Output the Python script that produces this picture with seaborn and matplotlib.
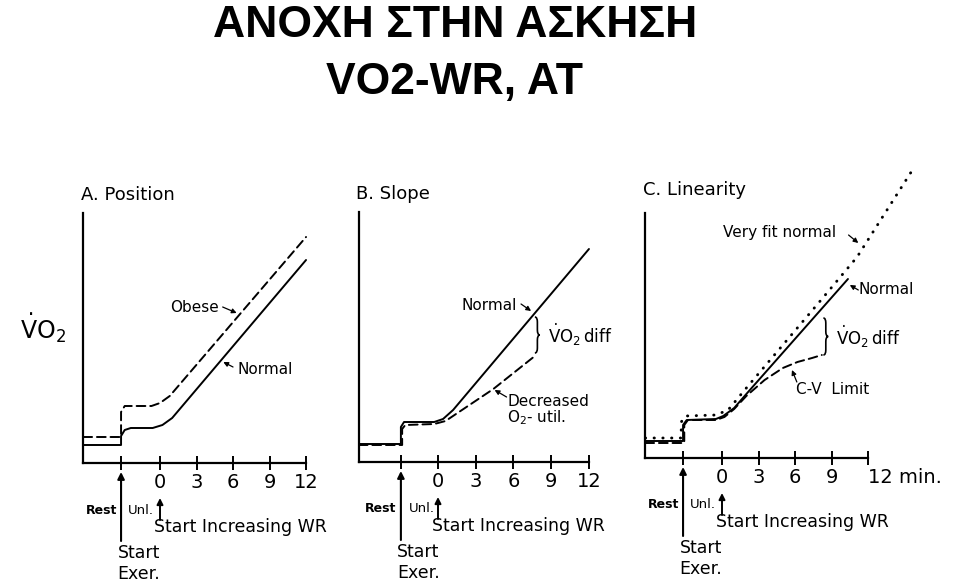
import numpy as np
import pandas as pd
import matplotlib
matplotlib.use("Agg")
import matplotlib.pyplot as plt
from matplotlib.path import Path
from matplotlib.patches import PathPatch
import seaborn as sns

sns.set_style("white")
plt.rcParams["font.family"] = ["DejaVu Sans"]
plt.rcParams["mathtext.fontset"] = "dejavusans"
plt.rcParams["text.color"] = "black"
plt.rcParams["xtick.color"] = "black"
plt.rcParams["axes.labelcolor"] = "black"

# -- data (minutes on x, arbitrary VO2 units on y)
a_normal_x = [-6.3, -3.2, -3.2, -2.9, -2.4, -0.6, 0.2, 1.0, 12.0]
a_normal_y = [18, 18, 27, 33, 35, 35, 38, 45, 203]
a_obese_x = [-6.3, -3.2, -3.2, -2.9, -0.7, 0.0, 0.8, 12.0]
a_obese_y = [26, 26, 51, 57, 57, 60, 67, 226]

b_normal_x = [-6.3, -2.95, -2.95, -2.7, -0.3, 0.4, 1.2, 12.0]
b_normal_y = [18, 18, 35, 40, 40, 43, 52, 213]
b_decr_x = [-6.3, -2.85, -2.85, -2.6, -0.3, 0.6, 4.4, 7.6]
b_decr_y = [17, 17, 33, 37, 38, 41, 73, 105]

c_normal_x = [-6.3, -3.2, -3.2, -2.9, -0.5, 0.1, 1.0, 2.0, 10.35]
c_normal_y = [17, 17, 33, 38, 39, 42, 50, 64, 179]
c_fit_x = [-6.3, -3.35, -3.35, -3.0, -0.5, 0.5, 2.0, 8.0, 11.1, 15.7]
c_fit_y = [20, 20, 36, 42, 43, 48, 70, 156, 201, 289]
c_cv_x = [-6.3, -3.1, -3.1, -2.8, -0.5, 0.2, 1.0, 2.0, 3.5, 5.0, 6.2, 7.4, 8.2]
c_cv_y = [15, 15, 33, 38, 38, 41, 49, 62, 78, 90, 96, 100, 103]

start_exer = [-3.2, -2.95, -3.2]
tick_vals = [0, 3, 6, 9, 12]
tick_labels = ["0", "3", "6", "9", "12"]
panel_titles = ["A. Position", "B. Slope", "C. Linearity"]

# -- layout (pixels of a 960x586 figure)
W, H = 960, 586
zero_px = [160, 438, 722]
ppm = [12.17, 12.58, 12.17]
base_px = [463, 462, 458]
XMIN, XMAX, YTOP = -6.3, 16.5, 300

LW = 1.4
DASH = (0, (4.5, 2.5))
DOT = (0, (0.1, 2.9))

fig = plt.figure(figsize=(9.6, 5.86), dpi=100)


def make_axes(i):
    left = (zero_px[i] + XMIN * ppm[i]) / W
    width = (XMAX - XMIN) * ppm[i] / W
    ax = fig.add_axes([left, (H - base_px[i]) / H, width, YTOP / H])
    ax.set_facecolor("none")
    return ax


def finish_axes(ax, i, ytop_spine, labels):
    ax.set_xlim(XMIN, XMAX)
    ax.set_ylim(0, YTOP)
    for s in ["top", "right"]:
        ax.spines[s].set_visible(False)
    ax.spines["left"].set_bounds(0, ytop_spine)
    ax.spines["bottom"].set_bounds(XMIN, 12)
    for s in ["left", "bottom"]:
        ax.spines[s].set_linewidth(1.6)
        ax.spines[s].set_color("black")
    ax.set_xticks([start_exer[i]] + tick_vals)
    ax.set_xticklabels([""] + labels)
    ax.tick_params(axis="x", bottom=True, direction="inout", length=10,
                   width=1.4, labelsize=14, pad=2, colors="black")
    ax.set_yticks([])
    ax.set_xlabel("")
    ax.set_ylabel("")
    ax.text(XMIN - 0.2, 268, panel_titles[i], fontsize=13, va="center", ha="left")


def curve(ax, xs, ys, ls="-", lw=LW):
    df = pd.DataFrame({"x": xs, "y": ys})
    sns.lineplot(data=df, x="x", y="y", estimator=None, sort=False, ax=ax,
                 color="black", linewidth=lw, linestyle=ls,
                 dash_capstyle="round", legend=False)


def pointer(ax, tail, head, scale=7, lw=0.9):
    ax.annotate("", xy=head, xytext=tail, annotation_clip=False,
                arrowprops=dict(arrowstyle="-|>", color="black", lw=lw,
                                mutation_scale=scale, shrinkA=0, shrinkB=0))


def brace(ax, x, y0, y1, w=0.4, r=5):
    ym = (y0 + y1) / 2
    h = x + w / 2
    verts = [(x, y1), (h, y1), (h, y1 - r), (h, ym + r), (h, ym), (x + w, ym),
             (h, ym), (h, ym - r), (h, y0 + r), (h, y0), (x, y0)]
    codes = [Path.MOVETO, Path.CURVE3, Path.CURVE3, Path.LINETO, Path.CURVE3,
             Path.CURVE3, Path.CURVE3, Path.CURVE3, Path.LINETO, Path.CURVE3,
             Path.CURVE3]
    ax.add_patch(PathPatch(Path(verts, codes), fill=False, lw=1.2,
                           edgecolor="black", clip_on=False))


def below_axis(ax, s):
    pointer(ax, (s, -78), (s, -9), scale=10, lw=1.5)
    pointer(ax, (0, -57), (0, -35), scale=9, lw=1.4)
    ax.text(s - 0.35, -47, "Rest", fontsize=9, fontweight="bold",
            ha="right", va="center")
    ax.text(s + 0.6, -47, "Unl.", fontsize=9.5, ha="left", va="center")
    ax.text(-0.5, -64, "Start Increasing WR", fontsize=12.5,
            ha="left", va="center")
    ax.text(s - 0.3, -90, "Start", fontsize=12.5, ha="left", va="center")
    ax.text(s - 0.3, -111, "Exer.", fontsize=12.5, ha="left", va="center")


diff_label = r"$\dot{\mathrm{V}}\mathrm{O}_2\,$diff"

# -- A. Position
ax = make_axes(0)
curve(ax, a_obese_x, a_obese_y, ls=DASH)
curve(ax, a_normal_x, a_normal_y)
finish_axes(ax, 0, 250, tick_labels)
ax.text(0.8, 156, "Obese", fontsize=11, va="center")
pointer(ax, (5.15, 156), (6.3, 150))
ax.text(6.4, 94, "Normal", fontsize=11, va="center")
pointer(ax, (6.0, 96), (5.2, 101))
below_axis(ax, start_exer[0])

# -- B. Slope
ax = make_axes(1)
curve(ax, b_decr_x, b_decr_y, ls=DASH)
curve(ax, b_normal_x, b_normal_y)
finish_axes(ax, 1, 250, tick_labels)
ax.text(6.3, 157, "Normal", fontsize=11, va="center", ha="right")
pointer(ax, (6.6, 158), (7.4, 151))
brace(ax, 7.7, 109, 145)
ax.text(8.75, 127, diff_label, fontsize=12, va="center")
ax.text(5.5, 60, "Decreased", fontsize=11, va="center")
ax.text(5.5, 44, r"O$_2$- util.", fontsize=11, va="center")
pointer(ax, (5.45, 65), (4.5, 72))
below_axis(ax, start_exer[1])

# -- C. Linearity
ax = make_axes(2)
curve(ax, c_cv_x, c_cv_y, ls=DASH)
curve(ax, c_fit_x, c_fit_y, ls=DOT, lw=2.1)
curve(ax, c_normal_x, c_normal_y)
finish_axes(ax, 2, 245, tick_labels[:-1] + ["12 min."])
ax.get_xticklabels()[-1].set_horizontalalignment("left")
ax.text(0.1, 226, "Very fit normal", fontsize=11, va="center")
pointer(ax, (10.4, 223), (11.2, 215))
ax.text(11.25, 168, "Normal", fontsize=11, va="center")
pointer(ax, (11.2, 168), (10.5, 173))
brace(ax, 8.33, 103, 140)
ax.text(9.4, 121, diff_label, fontsize=12, va="center")
ax.text(6.1, 68, "C-V  Limit", fontsize=11, va="center")
pointer(ax, (6.15, 76), (5.75, 88))
below_axis(ax, start_exer[2])

# -- y label and title
fig.text(43 / W, 1 - 328 / H, r"$\dot{\mathrm{V}}\mathrm{O}_2$", fontsize=17,
         ha="center", va="center")
fig.text(455 / W, 1 - 37 / H, "ΑΝΟΧΗ ΣΤΗΝ ΑΣΚΗΣΗ", fontsize=32,
         fontweight="bold", family=["Liberation Sans", "DejaVu Sans"],
         ha="center", va="baseline")
fig.text(455 / W, 1 - 94 / H, "VO2-WR, AT", fontsize=32,
         fontweight="bold", family=["Liberation Sans", "DejaVu Sans"],
         ha="center", va="baseline")

plt.savefig("out.png", dpi=100)
